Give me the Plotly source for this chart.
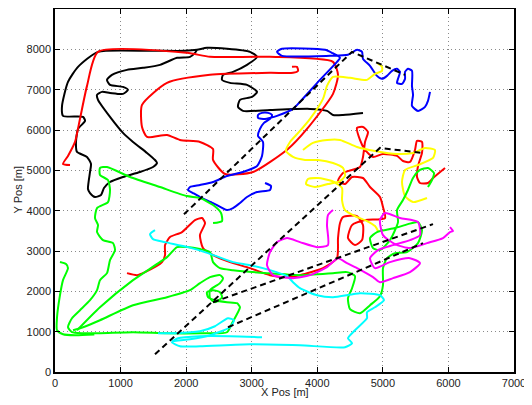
import plotly.graph_objects as go

# ---- data (metres) ----
black_xy = [(4697,6424),(4392,6374),(4240,6374),(4148,6474),(3889,6523),(3279,6498),(2867,6474),(2791,6573),
            (2821,6747),(3004,6821),(3081,6945),(2928,7119),(2669,7168),(2547,7243),(2562,7367),(2715,7442),
            (2928,7615),(3081,7814),(2974,7938),(2623,8013),(2318,8037),(2166,7988),(1983,7963),(1449,7963),
            (656,7938),(351,7566),(198,7193),(107,6598),(122,6350),(427,6325),(458,6226),(351,6027),(320,5704),
            (336,5456),(488,5332),(549,5158),(534,4959),(503,4537),(534,4437),(610,4338),(702,4388),(747,4561),
            (839,4710),(1037,4835),(1296,4959),(1495,5083),(1556,5183),(1525,5257),(1403,5431),(1190,5704),
            (1037,5928),(839,6325),(656,6747),(641,6871),(717,6945),(839,6920),(1037,6896),(1113,6995),
            (1037,7069),(839,7119),(793,7243),(869,7367),(1098,7491),(1342,7541),(1601,7615),(1861,7789),
            (2059,7814),(2135,7913),(2166,7988)]

red1_xy = [(3614,7566),(3690,7566),(3706,7467),(3630,7417),(3279,7417),(2364,7367),(1708,7168),(1327,6623),
           (1327,6076),(1403,5828),(1708,5878),(1906,5753),(2211,5704),(2410,5530),(2410,5257),(2593,4910),
           (3020,4959),(3553,5530),(3843,6027),(4240,6896),(4316,7367),(4240,7690),(3279,7814),(2364,7814),
           (2013,7913),(656,7938),(488,7094),(381,6275),(305,5704),(198,5357),(122,5158),(229,5133)]

red2_xy = [(1098,2451),(1251,2401),(1373,2476),(1632,2724),(1678,2898),(1678,3146),(1754,3345),(1937,3469),
           (2135,3767),(2242,3817),(2288,3693),(2211,3395),(2257,3072),(2410,2898),(2669,2724),(2974,2575),
           (3279,2401),(3538,2352),(3736,2401),(4087,2575),(4301,2823),(4316,3320),(4347,3693),(4392,3841),
           (4606,3866),(4697,3643),(4682,3270),(4575,3146),(4468,3320),(4530,3643),(4728,3767),(5033,3817),
           (5002,4090),(4956,4338),(4804,4586),(4697,4810),(4530,4835),(4423,4661),(4316,4735),(4392,4934),
           (4651,5083),(4697,5332),(4728,5704),(4773,5952),(4697,6076),(4606,6052),(4651,5754),(4728,5505),
           (4850,5332),(5002,5406),(5216,5357),(5307,5232),(5414,5207),(5490,5505),(5521,5729),(5597,5704),
           (5597,5431),(5536,5108),(5521,4835),(5566,4686),(5688,4686),(5765,4810),(5948,5058)]

blue_xy = [(5719,6945),(5688,6722),(5643,6573),(5536,6474),(5444,6598),(5460,6871),(5444,7094),(5444,7467),
           (5383,7516),(5338,7442),(5338,7268),(5292,7144),(5216,7168),(5231,7268),(5261,7442),(5216,7516),
           (5140,7467),(5063,7342),(4987,7268),(4911,7342),(4804,7591),(4697,7764),(4682,7938),(4606,7988),
           (4468,7864),(4194,7839),(3462,7839),(3386,7938),(3462,8013),(4118,7988),(4224,7913),(4347,7789),
           (4301,7690),(4041,7243),(3736,6697),(3630,6523),(3386,6350),(3279,6300),(3203,6275),(3096,6300),
           (3096,6374),(3157,6424),(3248,6424),(3309,6374),(3279,6275),(3187,6176),(3126,6027),(3096,5853),
           (3172,5704),(3157,5357),(3081,5108),(2867,4959),(2623,4860),(2410,4710),(2211,4636),(2059,4586),
           (2028,4512),(2105,4437),(2211,4338),(2410,4189),(2623,4015),(2715,4065),(2821,4189),(2928,4338),
           (3081,4462),(3279,4512),(3294,4611),(3203,4686)]

yellow1_xy = [(4911,7664),(4987,7566),(4987,7467),(4880,7392),(4758,7243),(4499,7293),(4240,7317),(4148,7094),
              (4087,6772),(3889,6275),(3736,5977),(3584,5704),(3523,5481),(3630,5332),(3813,5257),(4011,5257),
              (4240,5183),(4392,5058),(4423,4860),(4347,4735),(4163,4661),(3965,4586),(3828,4661),(3858,4785),
              (4011,4810),(4224,4735),(4377,4561),(4377,4263),(4423,4015),(4575,3866),(4758,3742),(4880,3618),
              (4926,3494)]

yellow2_xy = [(3782,5505),(3934,5679),(4148,5753),(4347,5753),(4606,5580),(4880,5481),(5216,5406),(5460,5431),
              (5643,5555),(5795,5505),(5765,5307),(5536,5133),(5338,5009),(5292,4710),(5338,4362),(5460,4213),
              (5673,4313)]

green1_xy = [(2410,3692),(2547,3742),(2532,3941),(2410,4139),(2211,4313),(2013,4362),(1601,4586),(1144,4835),
             (793,5083),(686,5058),(686,4884),(808,4760),(839,4512),(808,4213),(641,4065),(610,3817),(656,3643),
             (641,3469),(732,3270),(885,3196),(915,3022),(839,2774),(793,2451),(686,2277),(641,2029),(534,1780),
             (381,1532),(259,1333),(198,1110),(259,986),(427,961),(686,961),(1190,986),(1708,961),(2211,961),
             (2623,986),(2699,1209),(2821,1606),(2775,1705),(2623,1730),(2440,1780),(2333,1855),(2318,1979),
             (2410,2029),(2516,1979),(2547,1855),(2440,1730),(2364,1830),(2364,2029),(2516,2203),(2562,2327),
             (2516,2401),(2364,2352),(2211,2203),(2059,2029),(1708,1855),(1190,1656),(686,1284),(427,1110),
             (275,1035)]

green2_xy = [(76,2725),(168,2675),(198,2575),(122,2277),(76,1904),(31,1358),(31,1035),(122,936),(305,911),
             (600,930)]

green3_xy = [(336,1035),(686,1606),(1190,2277),(1708,2848),(1861,3097),(2013,3097),(2211,3047),(2364,2973),
             (2410,2724),(2516,2575),(2715,2525),(3233,2451),(3736,2401),(4240,2451),(4453,2476),(4575,2376),
             (4530,2078),(4468,1830),(4499,1557),(4651,1457),(4804,1656),(4956,1880),(5002,2153),(5002,2575),
             (5063,2824),(5185,2948),(5368,2973),(5536,3196),(5597,3519),(5536,3717),(5383,3667),(5185,3568),
             (4911,3469),(4804,3320),(4850,3072),(4956,3022),(5109,3270),(5231,3717),(5216,4015),(5307,4263),
             (5383,4512),(5460,4810),(5566,5009),(5688,5058),(5780,4934),(5749,4760),(5688,4586)]

cyan1_xy = [(1525,3519),(1449,3419),(1495,3295),(1678,3220),(2028,3096),(2333,2948),(2715,2724),(2974,2649),
            (3279,2525),(3538,2376),(3630,2227),(3736,2078),(3996,1904),(4240,1855),(4651,1954),(4956,1904),
            (5017,1780),(4880,1606),(4758,1482),(4758,1333),(4575,1035),(4468,837),(4530,713),(4423,614),
            (3736,663),(2974,688),(2211,638),(1906,638),(1784,737),(1876,837),(2211,887),(2669,887),(3157,862)]

cyan2_xy = [(1571,961),(1830,961),(2211,1010),(2440,1135),(2638,1333),(2730,1284),(2669,1110),(2364,912),
            (2059,812),(1784,762)]

magenta_xy = [(4240,4015),(4163,3891),(4148,3643),(4163,3146),(3996,3096),(3736,3220),(3538,3320),(3386,3220),
              (3279,2972),(3233,2649),(3325,2401),(3630,2327),(3889,2401),(4148,2600),(4316,2823),(4453,2699),
              (4606,2575),(4850,2352),(4956,2227),(5155,2327),(5414,2476),(5566,2699),(5414,2823),(5109,2724),
              (4880,2575),(4804,2823),(4926,3022),(5155,3146),(5414,3270),(5566,3394),(5536,3717),(5261,3817),
              (5033,3941),(4956,3767),(5002,3394),(5185,3171),(5414,3072),(5673,3196),(5917,3320),(6024,3469),
              (6070,3494),(6024,3593)]

dash_a = [(1967,3910),(4529,7938),(5338,7367)]
dash_b = [(1525,440),(4956,5556),(5597,5432)]
dash_c = [(2410,1730),(5765,3667)]
dash_d = [(2638,1110),(5612,3195)]

x_ticks = [0, 1000, 2000, 3000, 4000, 5000, 6000, 7000]
y_ticks = [0, 1000, 2000, 3000, 4000, 5000, 6000, 7000, 8000, 9000]
x_title = "X Pos [m]"
y_title = "Y Pos [m]"

series = [
    (black_xy, "#000000"),
    (red1_xy, "#ff0000"),
    (red2_xy, "#ff0000"),
    (blue_xy, "#0000ff"),
    (yellow1_xy, "#ffff00"),
    (yellow2_xy, "#ffff00"),
    (green1_xy, "#00ff00"),
    (green2_xy, "#00ff00"),
    (green3_xy, "#00ff00"),
    (cyan1_xy, "#00ffff"),
    (cyan2_xy, "#00ffff"),
    (magenta_xy, "#ff00ff"),
]

fig = go.Figure()
for pts, col in series:
    fig.add_trace(go.Scatter(x=[p[0] for p in pts], y=[p[1] for p in pts], mode="lines",
                             line=dict(color=col, width=2, shape="spline", smoothing=0.6),
                             showlegend=False, hoverinfo="skip"))
for pts in (dash_a, dash_b, dash_c, dash_d):
    fig.add_trace(go.Scatter(x=[p[0] for p in pts], y=[p[1] for p in pts], mode="lines",
                             line=dict(color="#000000", width=2, dash="6px,4px"),
                             showlegend=False, hoverinfo="skip"))

font = dict(family="Liberation Sans, Arial", size=11, color="#222")
axis_common = dict(showline=True, linecolor="black", linewidth=1.5, mirror="ticks",
                   ticks="inside", ticklen=5, tickcolor="black", tickwidth=1,
                   showgrid=True, gridcolor="#8a8a8a", griddash="1px,3px", gridwidth=1,
                   zeroline=False, tickfont=font, automargin=False)

fig.update_xaxes(range=[0, 7000], tickvals=x_ticks, ticktext=[str(v) for v in x_ticks], **axis_common)
fig.update_yaxes(range=[0, 9000], tickvals=y_ticks, ticktext=[str(v) for v in y_ticks], **axis_common)

fig.add_annotation(text=x_title, xref="paper", yref="paper", x=0.5, y=0, yshift=-20,
                   xanchor="center", yanchor="middle", showarrow=False, font=font)
fig.add_annotation(text=y_title, xref="paper", yref="paper", x=0, y=0.5, xshift=-38,
                   xanchor="center", yanchor="middle", textangle=-90, showarrow=False, font=font)

# page body has an 8px margin, so the figure is sized/margined to land the axes where the reference has them
fig.update_layout(width=524, height=397, margin=dict(l=47, r=18, t=1, b=33),
                  paper_bgcolor="white", plot_bgcolor="white")
fig.write_html("out.html")
